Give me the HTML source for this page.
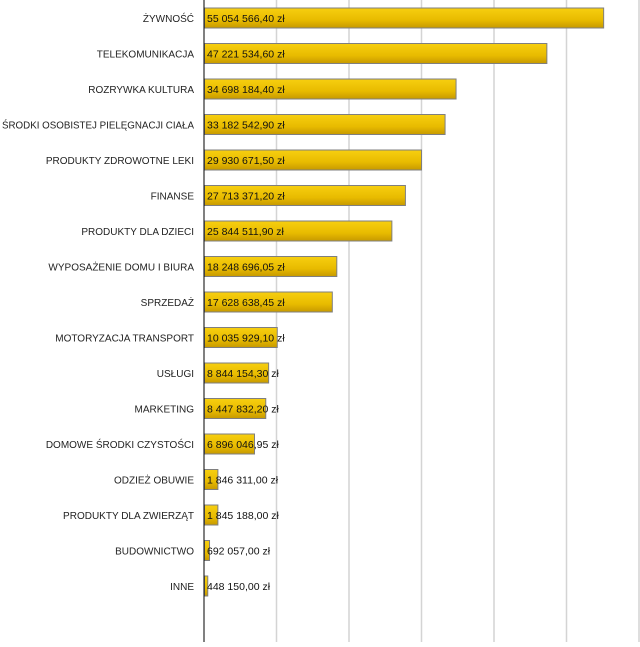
<!DOCTYPE html>
<html><head><meta charset="utf-8"><style>
body{margin:0;background:#fff}
</style></head><body>
<svg width="640" height="642" xmlns="http://www.w3.org/2000/svg" font-family="Liberation Sans, Arial, sans-serif" font-size="10.5">
<defs><linearGradient id="g" x1="0" y1="0" x2="0" y2="1"><stop offset="0" stop-color="#f7cf10"/><stop offset="0.6" stop-color="#e8bb00"/><stop offset="1" stop-color="#c79a00"/></linearGradient></defs>
<g stroke="#d4d4d4" stroke-width="1.5">
<line x1="276.5" y1="0" x2="276.5" y2="642"/><line x1="349" y1="0" x2="349" y2="642"/><line x1="421.5" y1="0" x2="421.5" y2="642"/><line x1="494" y1="0" x2="494" y2="642"/><line x1="566.5" y1="0" x2="566.5" y2="642"/><line x1="639" y1="0" x2="639" y2="642"/>
</g>
<g fill="url(#g)" stroke="#7f7f7f" stroke-width="1">
<rect x="204.5" y="8" width="399.15" height="20"/>
<rect x="204.5" y="43.5" width="342.36" height="20"/>
<rect x="204.5" y="79" width="251.56" height="20"/>
<rect x="204.5" y="114.5" width="240.57" height="20"/>
<rect x="204.5" y="150" width="217" height="20"/>
<rect x="204.5" y="185.5" width="200.92" height="20"/>
<rect x="204.5" y="221" width="187.37" height="20"/>
<rect x="204.5" y="256.5" width="132.3" height="20"/>
<rect x="204.5" y="292" width="127.81" height="20"/>
<rect x="204.5" y="327.5" width="72.76" height="20"/>
<rect x="204.5" y="363" width="64.12" height="20"/>
<rect x="204.5" y="398.5" width="61.25" height="20"/>
<rect x="204.5" y="434" width="50" height="20"/>
<rect x="204.5" y="469.5" width="13.39" height="20"/>
<rect x="204.5" y="505" width="13.38" height="20"/>
<rect x="204.5" y="540.5" width="5.02" height="20"/>
<rect x="204.5" y="576" width="3.25" height="20"/>
</g>
<g text-anchor="end" fill="#222" font-size="10">
<text x="194" y="22">ŻYWNOŚĆ</text>
<text x="194" y="57.5">TELEKOMUNIKACJA</text>
<text x="194" y="93">ROZRYWKA KULTURA</text>
<text x="194" y="128.5" textLength="192" lengthAdjust="spacingAndGlyphs">ŚRODKI OSOBISTEJ PIELĘGNACJI CIAŁA</text>
<text x="194" y="164">PRODUKTY ZDROWOTNE LEKI</text>
<text x="194" y="199.5">FINANSE</text>
<text x="194" y="235">PRODUKTY DLA DZIECI</text>
<text x="194" y="270.5">WYPOSAŻENIE DOMU I BIURA</text>
<text x="194" y="306">SPRZEDAŻ</text>
<text x="194" y="341.5">MOTORYZACJA TRANSPORT</text>
<text x="194" y="377">USŁUGI</text>
<text x="194" y="412.5">MARKETING</text>
<text x="194" y="448">DOMOWE ŚRODKI CZYSTOŚCI</text>
<text x="194" y="483.5">ODZIEŻ OBUWIE</text>
<text x="194" y="519">PRODUKTY DLA ZWIERZĄT</text>
<text x="194" y="554.5">BUDOWNICTWO</text>
<text x="194" y="590">INNE</text>
</g>
<g fill="#111">
<text x="207" y="22">55 054 566,40 zł</text>
<text x="207" y="57.5">47 221 534,60 zł</text>
<text x="207" y="93">34 698 184,40 zł</text>
<text x="207" y="128.5">33 182 542,90 zł</text>
<text x="207" y="164">29 930 671,50 zł</text>
<text x="207" y="199.5">27 713 371,20 zł</text>
<text x="207" y="235">25 844 511,90 zł</text>
<text x="207" y="270.5">18 248 696,05 zł</text>
<text x="207" y="306">17 628 638,45 zł</text>
<text x="207" y="341.5">10 035 929,10 zł</text>
<text x="207" y="377">8 844 154,30 zł</text>
<text x="207" y="412.5">8 447 832,20 zł</text>
<text x="207" y="448">6 896 046,95 zł</text>
<text x="207" y="483.5">1 846 311,00 zł</text>
<text x="207" y="519">1 845 188,00 zł</text>
<text x="207" y="554.5">692 057,00 zł</text>
<text x="207" y="590">448 150,00 zł</text>
</g>
<line x1="204" y1="0" x2="204" y2="642" stroke="#000" stroke-width="1"/>
</svg>
</body></html>
